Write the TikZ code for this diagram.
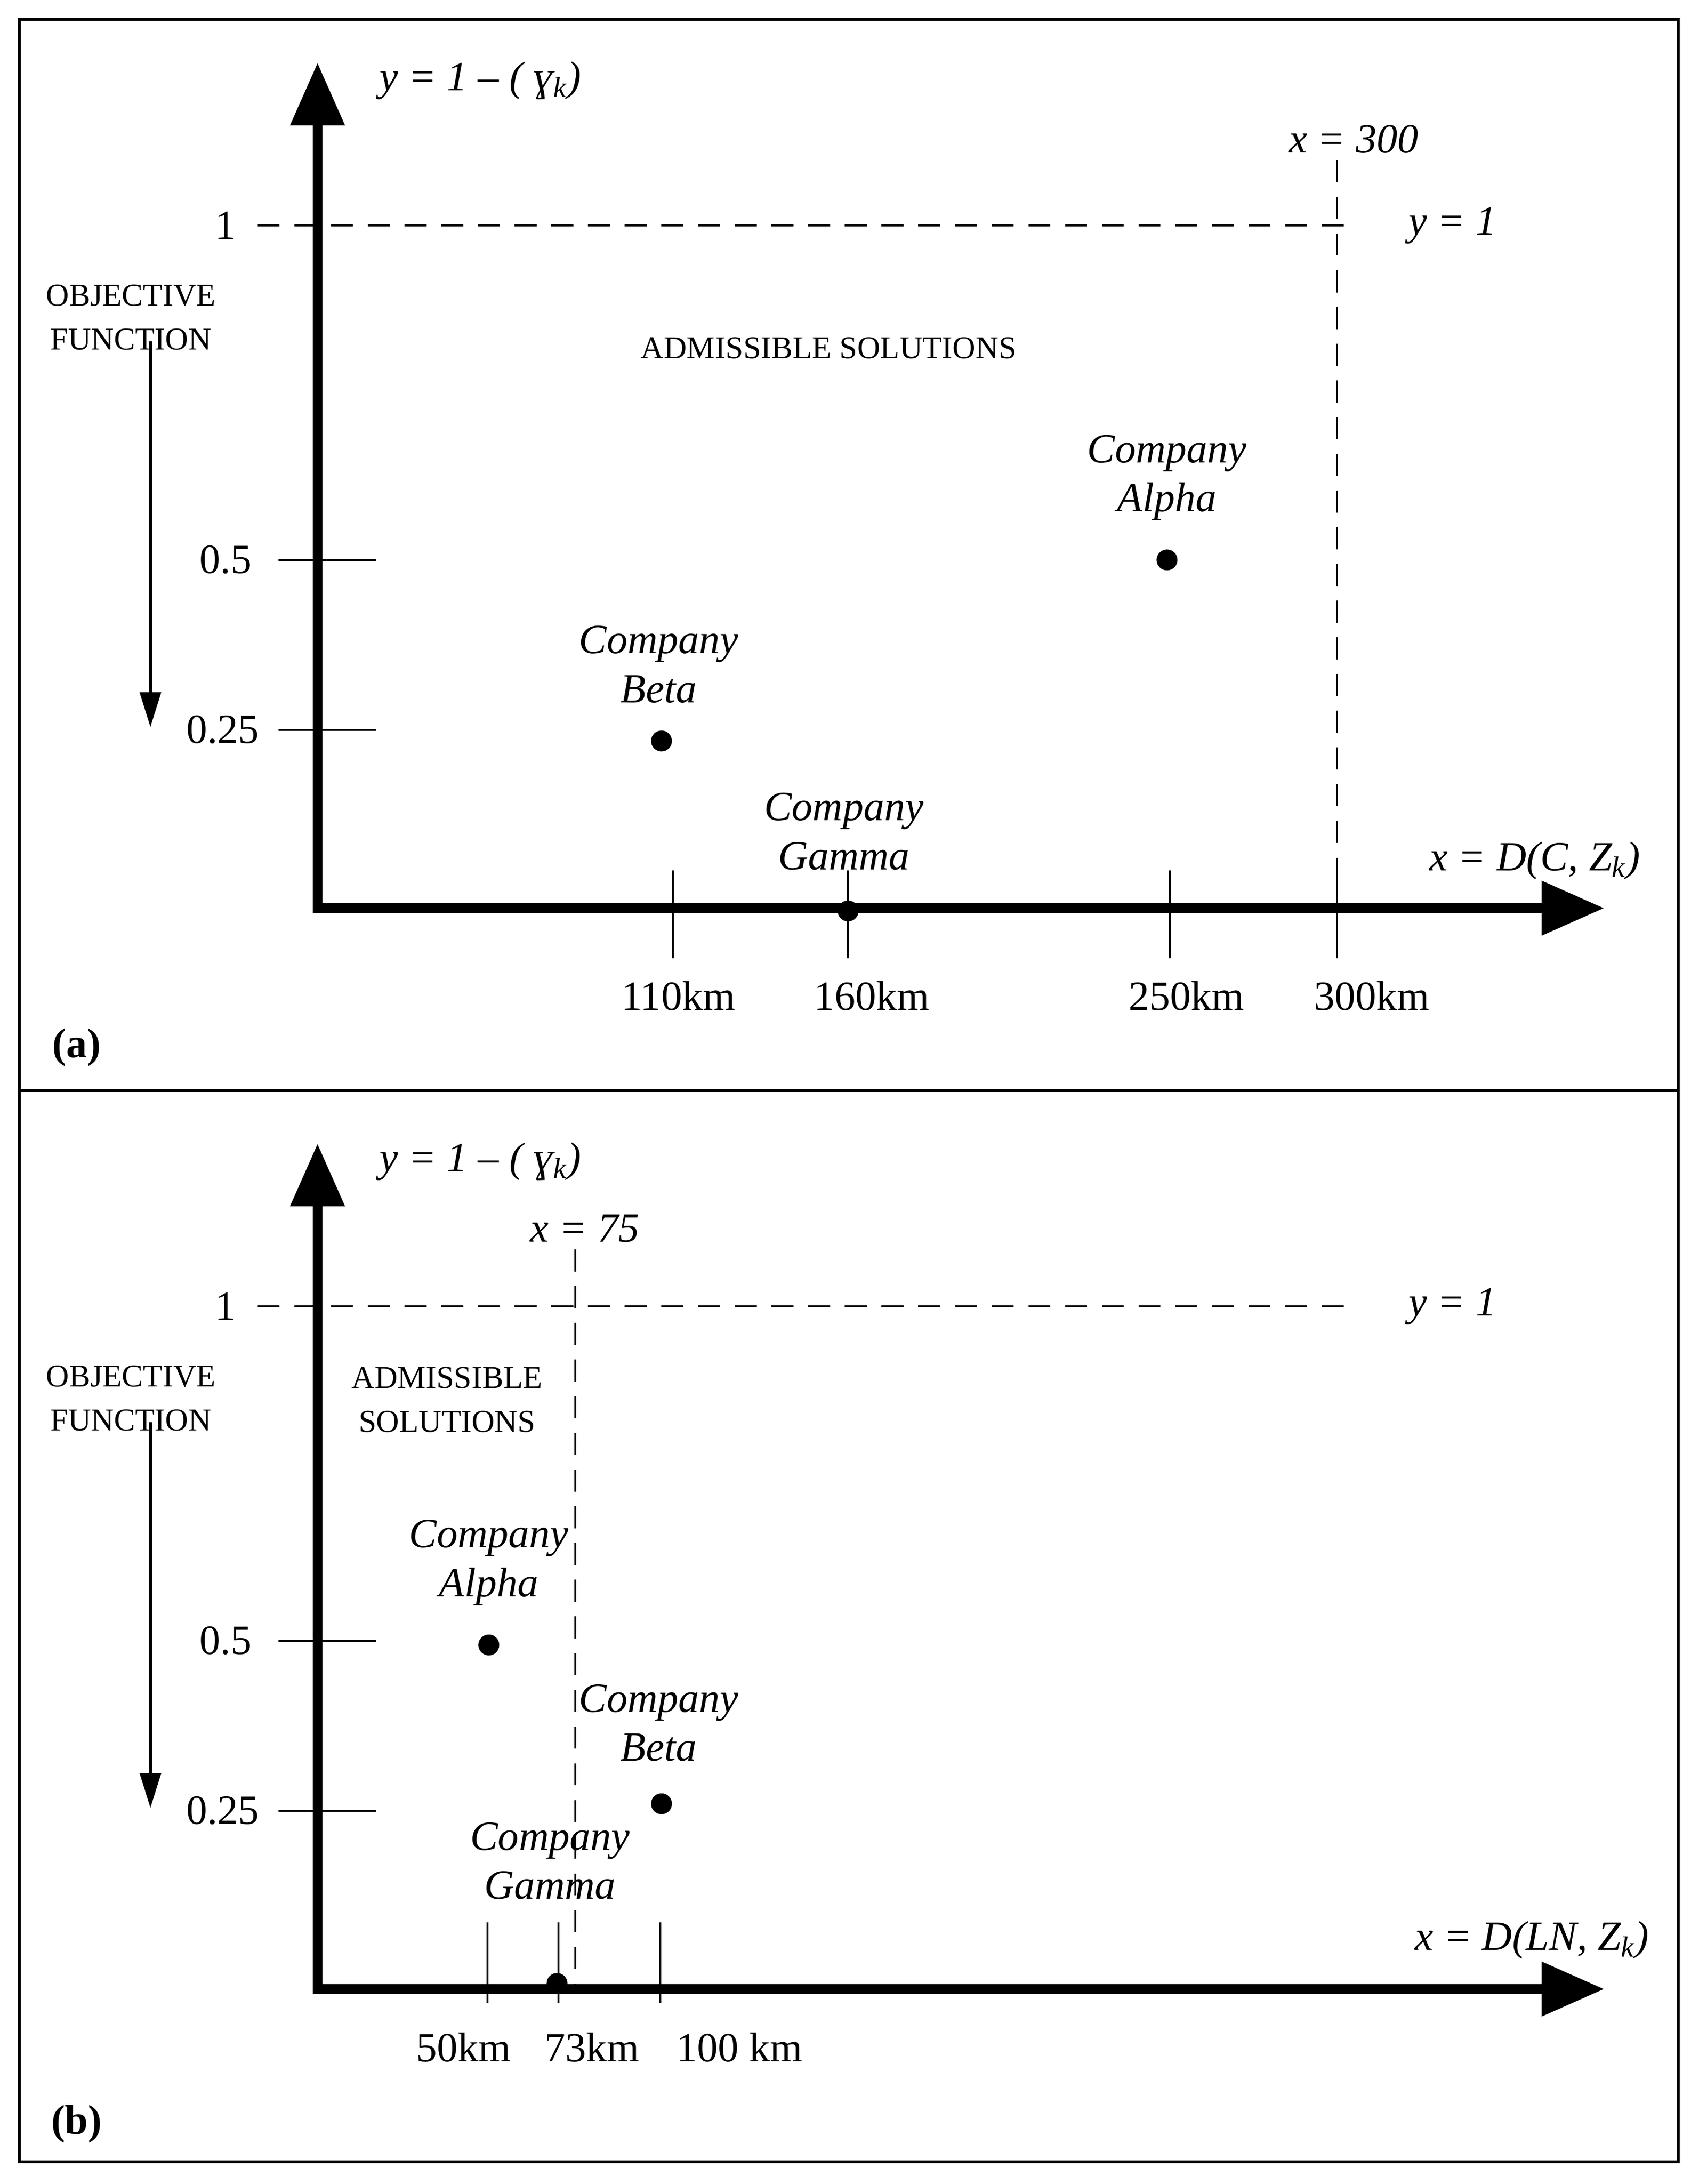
\documentclass[tikz,border=0pt]{standalone}
\usepackage{fontspec}
\setmainfont{Liberation Serif}
\usetikzlibrary{arrows.meta}
\begin{document}
\begin{tikzpicture}[x={(0.02cm,0)},y={(0,-0.02cm)},
  axis/.style={line width=4pt,-{Triangle[length=0.9cm,width=0.75cm]}},
  tick/.style={line width=0.8pt},
  dline/.style={dashed,line width=0.8pt,dash pattern=on 9pt off 6pt},
  lbl/.style={font=\fontsize{17}{20}\selectfont},
  it/.style={font=\fontsize{17}{20}\selectfont\itshape,align=center},
  small/.style={font=\fontsize{13}{18}\selectfont,align=center},
  dot/.style={circle,fill,inner sep=0pt,minimum size=0.3cm}]
\useasboundingbox (0,0) rectangle (1220,1568);
\draw[line width=1.2pt] (14,14) rectangle (1205,1552);
\draw[line width=1.2pt] (14,783) -- (1205,783);
\foreach \p/\o in {a/0,b/776}{
  \coordinate (O\p) at (228,652+\o);
  \coordinate (Y\p) at (228,45+\o);
  \coordinate (X\p) at (1152,652+\o);
  \draw[axis] (O\p) -- (Y\p);
  \draw[axis] ([xshift=-2pt]O\p) -- (X\p);
  \node[it] at (345,58+\o) {y = 1 – ( ɣ\textsubscript{k})};
  \node[lbl] at (162,162+\o) {1};
  \node[it] at (1043,162+\o) {y = 1};
  \coordinate (ha\p) at (185,162+\o); \coordinate (hb\p) at (965,162+\o);
  \draw[dline] (ha\p) -- (hb\p);
  \node[lbl] (h\p) at (162,402+\o) {0.5};
  \node[lbl] (q\p) at (160,524+\o) {0.25};
  \draw[tick] (200,402+\o) -- (270,402+\o);
  \draw[tick] (200,524+\o) -- (270,524+\o);
  \node[small] (of\p) at (94,228+\o) {OBJECTIVE\\FUNCTION};
  \coordinate (ofs\p) at (108,245+\o); \coordinate (ofe\p) at (108,522+\o);
  \draw[line width=1.2pt,-{Triangle[length=0.5cm,width=0.3cm]}] (ofs\p) -- (ofe\p);
}
% panel a
\coordinate (va1) at (960,115); \coordinate (va2) at (960,690);
\draw[dline] (va1) -- (va2);
\node[it] at (972,100) {x = 300};
\foreach \x in {483,609,840,960} \draw[tick] (\x,625) -- (\x,688);
\node[lbl] at (487,715) {110km};
\node[lbl] at (626,715) {160km};
\node[lbl] at (852,715) {250km};
\node[lbl] at (985,715) {300km};
\node[dot] (al) at (838,402) {};
\node[dot] (be) at (475,532) {};
\node[dot] (ga) at (609,654) {};
\node[it] at (838,343) {Company\\Alpha};
\node[it] at (473,477) {Company\\Beta};
\node[it] at (606,597) {Company\\Gamma};
\node[small] at (595,250) {ADMISSIBLE SOLUTIONS};
\node[it] at (1102,618) {x = D(C, Z\textsubscript{k})};
\node[lbl,font=\fontsize{17}{20}\selectfont\bfseries] at (55,752) {(a)};
% panel b
\coordinate (vb1) at (413,897); \coordinate (vb2) at (413,1428);
\draw[dline] (vb1) -- (vb2);
\node[it] at (420,882) {x = 75};
\foreach \x in {350,401,474} \draw[tick] (\x,1380) -- (\x,1438);
\node[lbl] at (333,1470) {50km};
\node[lbl] at (425,1470) {73km};
\node[lbl] at (531,1470) {100 km};
\node[dot] (alb) at (351,1181) {};
\node[dot] (beb) at (475,1295) {};
\node[dot] (gab) at (400,1424) {};
\node[it] at (351,1122) {Company\\Alpha};
\node[it] at (473,1237) {Company\\Beta};
\node[it] at (395,1336) {Company\\Gamma};
\node[small] at (321,1005) {ADMISSIBLE\\SOLUTIONS};
\node[it] at (1100,1393) {x = D(LN, Z\textsubscript{k})};
\node[lbl,font=\fontsize{17}{20}\selectfont\bfseries] at (55,1525) {(b)};
\end{tikzpicture}
\end{document}
